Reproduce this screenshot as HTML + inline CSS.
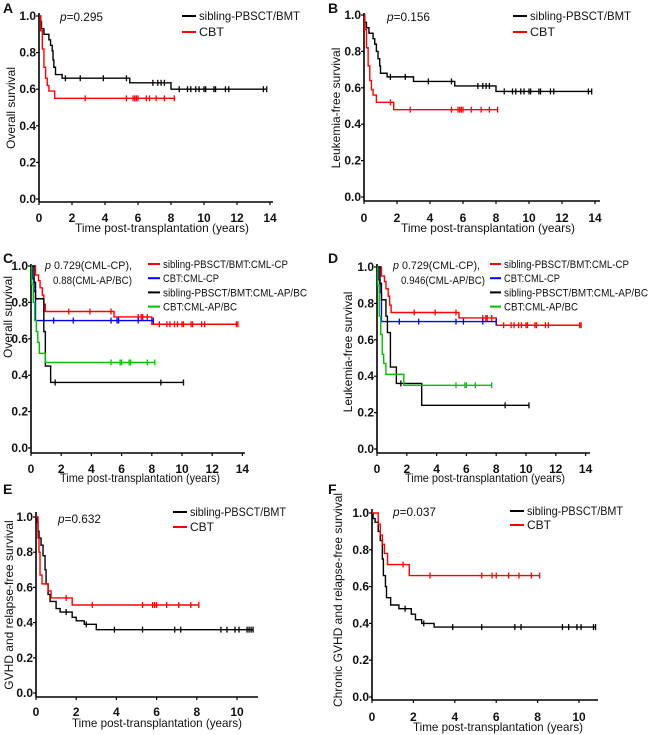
<!DOCTYPE html>
<html><head><meta charset="utf-8">
<style>
html,body{margin:0;padding:0;background:#fff;}
svg{display:block;font-family:"Liberation Sans",sans-serif;}
.tk{font-size:12px;font-weight:bold;fill:#111;}
.tt{font-size:12px;fill:#111;}
.lg{font-size:12px;fill:#111;}
.lgs{font-size:11px;fill:#111;}
.let{font-size:14px;font-weight:bold;fill:#111;}
</style></head>
<body>
<svg id="fig" width="650" height="735" viewBox="0 0 650 735" xmlns="http://www.w3.org/2000/svg"></svg>
<script>
// ---- Panel A: overall survival ----
const aSibT=[0.1,0.15,0.3,0.6,0.7,0.8,0.85,0.9,1.0,1.4,5.5,8.0];
const aSibS=[0.97,0.93,0.9,0.87,0.84,0.81,0.76,0.72,0.68,0.66,0.635,0.60];
const aSibCens=[1.6,2.5,3.9,5.3,6.9,7.2,7.4,7.6,8.5,9.0,9.2,9.5,9.7,10.0,10.1,10.6,10.7,11.3,11.5,13.6,13.8];
const aCbtT=[0.1,0.2,0.3,0.4,0.5,0.6,0.95];
const aCbtS=[0.92,0.82,0.72,0.66,0.62,0.59,0.55];
const aCbtCens=[2.8,5.3,5.7,5.8,5.9,6.0,6.5,6.7,7.1,7.6,8.2];
// ---- Panel B: leukemia-free survival ----
const bSibT=[0.05,0.15,0.3,0.55,0.65,0.75,0.85,0.95,1.0,1.4,3.0,5.5,8.0];
const bSibS=[0.96,0.93,0.9,0.87,0.84,0.8,0.76,0.72,0.68,0.66,0.635,0.61,0.58];
const bSibCens=[1.6,2.5,3.9,5.3,6.9,7.2,7.4,7.6,8.5,9.0,9.2,9.5,9.7,10.0,10.1,10.6,10.7,11.3,11.5,13.6,13.8];
const bCbtT=[0.05,0.15,0.25,0.35,0.45,0.55,0.75,1.8];
const bCbtS=[0.92,0.82,0.72,0.64,0.59,0.56,0.52,0.48];
const bCbtCens=[1.6,2.8,5.3,5.7,5.8,5.9,6.0,6.5,7.1,7.6,8.1];
// ---- Panel C: overall survival by phase ----
const cSibCpT=[0.3,0.5,0.6,0.75,0.85,0.95,5.5,8.0];
const cSibCpS=[0.95,0.92,0.88,0.84,0.79,0.75,0.72,0.68];
const cSibCpCens=[2.5,3.9,5.3,7.1,7.3,7.4,7.7,8.5,9.0,9.2,9.5,9.7,10.0,10.1,10.6,10.7,11.3,11.5,13.6,13.7];
const cCbtCpT=[0.1,0.2,0.3];
const cCbtCpS=[0.93,0.86,0.7];
const cCbtCpCens=[1.5,2.8,5.3,5.7,5.8,7.1,8.1];
const cSibApT=[0.2,0.3,0.85,0.95,1.3];
const cSibApS=[0.91,0.82,0.64,0.45,0.36];
const cSibApCens=[1.6,8.6,10.1];
const cCbtApT=[0.05,0.15,0.25,0.35,0.45,0.55,0.95];
const cCbtApS=[0.9,0.8,0.7,0.64,0.58,0.52,0.47];
const cCbtApCens=[5.3,5.9,6.0,6.5,6.6,7.7,8.2];
// ---- Panel D: leukemia-free survival by phase ----
const dSibCpT=[0.3,0.5,0.6,0.75,0.85,0.95,5.5,8.0];
const dSibCpS=[0.95,0.92,0.88,0.84,0.79,0.75,0.72,0.68];
const dSibCpCens=[2.5,3.9,5.3,7.1,7.3,7.4,7.7,8.5,9.0,9.2,9.5,9.7,10.0,10.1,10.6,10.7,11.3,11.5,13.6,13.7];
const dCbtCpT=[0.1,0.2,0.3];
const dCbtCpS=[0.93,0.86,0.7];
const dCbtCpCens=[1.5,2.8,5.3,5.8,7.1,8.0];
const dSibApT=[0.2,0.3,0.6,0.7,0.9,1.3,3.0];
const dSibApS=[0.91,0.82,0.73,0.64,0.45,0.36,0.24];
const dSibApCens=[1.6,8.6,10.2];
const dCbtApT=[0.05,0.15,0.25,0.35,0.45,0.6,1.8];
const dCbtApS=[0.9,0.73,0.63,0.52,0.47,0.41,0.35];
const dCbtApCens=[5.3,5.9,6.0,6.6,7.7];
// ---- Panel E: GVHD and relapse-free survival ----
const eSibT=[0.05,0.1,0.15,0.25,0.35,0.45,0.5,0.6,0.7,1.0,1.2,1.8,2.0,2.4,3.0];
const eSibS=[0.97,0.92,0.88,0.84,0.78,0.7,0.62,0.56,0.52,0.48,0.46,0.43,0.41,0.39,0.36];
const eSibCens=[1.5,2.5,3.9,5.3,6.9,7.2,9.2,9.5,9.9,10.1,10.5,10.6,10.7,10.8];
const eCbtT=[0.1,0.15,0.2,0.3,0.6,0.75,1.8];
const eCbtS=[0.88,0.8,0.67,0.62,0.58,0.54,0.50];
const eCbtCens=[1.5,2.8,5.3,5.8,5.9,6.0,6.5,7.1,7.7,8.1];
// ---- Panel F: chronic GVHD and relapse-free survival ----
const fSibT=[0.05,0.15,0.3,0.4,0.5,0.55,0.65,0.7,0.9,1.3,1.9,2.1,2.4,3.0];
const fSibS=[0.97,0.95,0.9,0.85,0.75,0.66,0.6,0.54,0.5,0.48,0.45,0.42,0.40,0.38];
const fSibCens=[1.6,2.5,3.9,5.3,6.9,7.2,9.2,9.5,9.9,10.1,10.7,10.8];
const fCbtT=[0.3,0.4,0.5,0.6,0.75,1.8];
const fCbtS=[0.94,0.88,0.83,0.78,0.72,0.66];
const fCbtCens=[1.5,2.8,5.3,5.8,6.0,6.6,7.1,7.7,8.1];
// ---- tick labels ----
const yTickVals=[0,0.2,0.4,0.6,0.8,1.0];
const yTickLabels=["0.0","0.2","0.4","0.6","0.8","1.0"];
const xTicks14=[0,2,4,6,8,10,12,14];
const xTicks10=[0,2,4,6,8,10];

const NS="http://www.w3.org/2000/svg";
const svg=document.getElementById('fig');
function mk(tag,attrs,parent){const e=document.createElementNS(NS,tag);for(const k in attrs)e.setAttribute(k,attrs[k]);(parent||svg).appendChild(e);return e;}
function txt(s,x,y,cls,anchor,parent){const t=mk('text',{x:x,y:y,class:cls,'text-anchor':anchor||'start'},parent);t.textContent=s;return t;}
function fit(el,w){if(w){el.setAttribute('textLength',w);el.setAttribute('lengthAdjust','spacingAndGlyphs');}}

const panels=[
 {id:'a',letter:'A',lx:3,ly:13,x0:39,px:16.5,y0:199,ys:183,ax:202,top:13,xend:273,ticks:xTicks14,
  ytitle:'Overall survival',ytx:15,yty:108,xtx:162,xty:232,tly:222,xtw:174,
  p:['=0.295'],pw:[43],px0:60,py0:21,lgx:182,lgy:16,lgdy:16,lgcls:'lg',ll:14,
  series:[['sibling-PBSCT/BMT','#000',aSibT,aSibS,aSibCens,101],['CBT','#ff0000',aCbtT,aCbtS,aCbtCens,25]]},
 {id:'b',letter:'B',lx:328,ly:13,x0:364,px:16.5,y0:197,ys:182,ax:201,top:13,xend:600,ticks:xTicks14,
  ytitle:'Leukemia-free survival',ytx:340,yty:108,xtx:488,xty:232,tly:222,xtw:174,
  p:['=0.156'],pw:[43],px0:387,py0:21,lgx:513,lgy:16,lgdy:16,lgcls:'lg',ll:14,
  series:[['sibling-PBSCT/BMT','#000',bSibT,bSibS,bSibCens,101],['CBT','#ff0000',bCbtT,bCbtS,bCbtCens,25]]},
 {id:'c',letter:'C',lx:3,ly:263,x0:31,px:15.1,y0:448,ys:182,ax:453,top:264,xend:245,ticks:xTicks14,
  ytitle:'Overall survival',ytx:12,yty:317,xtx:140,xty:482,tly:473,xtw:160,
  p:[' 0.729(CML-CP),','0.88(CML-AP/BC)'],pw:[87,79],px0:45,py0:269,lgx:148,lgy:264,lgdy:14.2,lgcls:'lgs',ll:12,
  series:[['sibling-PBSCT/BMT:CML-CP','#ff0000',cSibCpT,cSibCpS,cSibCpCens,125],['CBT:CML-CP','#0000ff',cCbtCpT,cCbtCpS,cCbtCpCens,56],['sibling-PBSCT/BMT:CML-AP/BC','#000',cSibApT,cSibApS,cSibApCens,144],['CBT:CML-AP/BC','#00c000',cCbtApT,cCbtApS,cCbtApCens,74]]},
 {id:'d',letter:'D',lx:328,ly:263,x0:377,px:14.9,y0:449,ys:182,ax:453,top:264,xend:590,ticks:xTicks14,
  ytitle:'Leukemia-free survival',ytx:352,yty:352,xtx:485,xty:482,tly:473,xtw:160,
  p:[' 0.729(CML-CP),','0.946(CML-AP/BC)'],pw:[87,84],px0:393,py0:269,lgx:490,lgy:264,lgdy:14.2,lgcls:'lgs',ll:11,
  series:[['sibling-PBSCT/BMT:CML-CP','#ff0000',dSibCpT,dSibCpS,dSibCpCens,125],['CBT:CML-CP','#0000ff',dCbtCpT,dCbtCpS,dCbtCpCens,56],['sibling-PBSCT/BMT:CML-AP/BC','#000',dSibApT,dSibApS,dSibApCens,144],['CBT:CML-AP/BC','#00c000',dCbtApT,dCbtApS,dCbtApCens,74]]},
 {id:'e',letter:'E',lx:3,ly:494,x0:36,px:20.1,y0:693,ys:176,ax:697,top:512,xend:258,ticks:xTicks10,
  ytitle:'GVHD and relapse-free survival',ytx:13,yty:605,xtx:157,xty:727,tly:716,xtw:170,
  p:['=0.632'],pw:[43],px0:58,py0:523,lgx:173,lgy:512,lgdy:15,lgcls:'lg',ll:14,
  series:[['sibling-PBSCT/BMT','#000',eSibT,eSibS,eSibCens,96],['CBT','#ff0000',eCbtT,eCbtS,eCbtCens,24]]},
 {id:'f',letter:'F',lx:328,ly:494,x0:372,px:20.7,y0:697,ys:184,ax:700,top:509,xend:598,ticks:xTicks10,
  ytitle:'Chronic GVHD and relapse-free survival',ytx:342,yty:600,xtx:498,xty:731,tly:721,xtw:170,
  p:['=0.037'],pw:[43],px0:393,py0:516,lgx:510,lgy:511,lgdy:14,lgcls:'lg',ll:14,
  series:[['sibling-PBSCT/BMT','#000',fSibT,fSibS,fSibCens,96],['CBT','#ff0000',fCbtT,fCbtS,fCbtCens,24]]}
];

panels.forEach(P=>{
  const g=mk('g',{});
  
  
  const X=t=>P.x0+t*P.px, Y=v=>P.y0-v*P.ys;
  const L=txt(P.letter,P.lx,P.ly,'let','start',g);
  
  
  const ya=mk('line',{x1:P.x0,y1:P.top,x2:P.x0,y2:P.ax,stroke:'#000','stroke-width':1.6},g);
  
  
  const xa=mk('line',{x1:P.x0,y1:P.ax,x2:P.xend,y2:P.ax,stroke:'#000','stroke-width':1.6},g);
  
  
  yTickVals.forEach((v,i)=>{
    mk('line',{x1:P.x0-3,y1:Y(v),x2:P.x0,y2:Y(v),stroke:'#000','stroke-width':1.2},g);
    const t=txt(yTickLabels[i],P.x0-3,Y(v)+4,'tk','end',g);
    
    
  });
  P.ticks.forEach(v=>{
    mk('line',{x1:X(v),y1:P.ax,x2:X(v),y2:P.ax+3,stroke:'#000','stroke-width':1.2},g);
    const t=txt(String(v),X(v),P.tly,'tk','middle',g);
    
    
  });
  const xt=txt('Time post-transplantation (years)',P.xtx,P.xty,'tt','middle',g);
  fit(xt,P.xtw);
  
  
  const yt=txt(P.ytitle,0,0,'tt','middle',g);
  yt.setAttribute('transform','translate('+P.ytx+','+P.yty+') rotate(-90)');
  
  
  const pt=mk('text',{x:P.px0,y:P.py0,class:P.lgcls},g);
  
  
  const it=mk('tspan',{'font-style':'italic'},pt);it.textContent='p';
  const r=mk('tspan',{},pt);r.textContent=P.p[0];
  fit(pt,P.pw[0]);
  if(P.p[1]){const t2=txt(P.p[1],P.px0+8,P.py0+15,P.lgcls,'start',g);fit(t2,P.pw[1]);}
  P.series.forEach((s,si)=>{
    const [name,col,T,S,C,w]=s;
    const end=Math.max(C[C.length-1],T[T.length-1]);
    let d='M'+X(0)+','+Y(1);
    for(let i=0;i<T.length;i++){d+=' H'+X(T[i])+' V'+Y(S[i]);}
    d+=' H'+X(end);
    const path=mk('path',{d:d,fill:'none',stroke:col,'stroke-width':1.4},g);
    
    
    const sAt=t=>{let v=1;for(let i=0;i<T.length;i++){if(T[i]<=t)v=S[i];}return v;};
    C.forEach(t=>{
      const m=mk('line',{x1:X(t),x2:X(t),y1:Y(sAt(t))-3,y2:Y(sAt(t))+3,stroke:col,'stroke-width':1.3},g);
      
      
    });
    const ly=P.lgy+si*P.lgdy;
    const ll=mk('line',{x1:P.lgx,x2:P.lgx+P.ll,y1:ly,y2:ly,stroke:col,'stroke-width':2},g);
    
    
    const lt=txt(name,P.lgx+P.ll+3,ly+4,P.lgcls,'start',g);
    fit(lt,w);
    
    
  });
});
</script>
</body></html>
